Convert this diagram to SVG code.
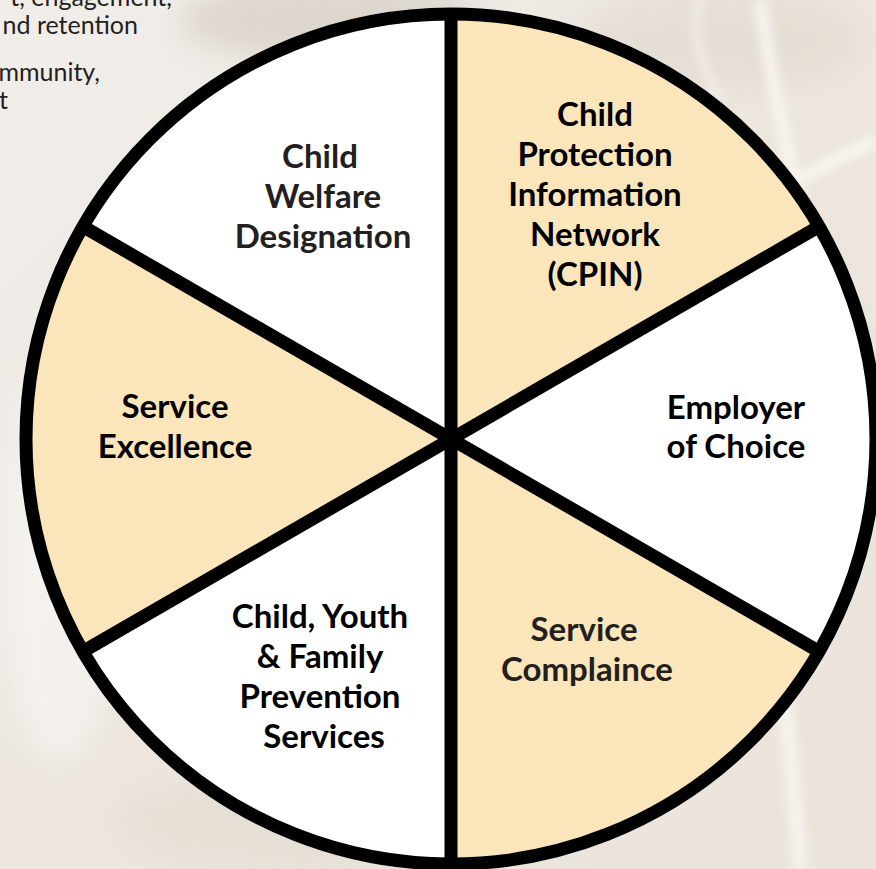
<svg xmlns="http://www.w3.org/2000/svg" width="876" height="869" viewBox="0 0 876 869">
  <defs>
    <filter id="soft" x="-50%" y="-50%" width="200%" height="200%">
      <feGaussianBlur stdDeviation="14"/>
    </filter>
    <filter id="softer" x="-50%" y="-50%" width="200%" height="200%">
      <feGaussianBlur stdDeviation="5"/>
    </filter>
    <linearGradient id="bg" x1="0" y1="0" x2="1" y2="1">
      <stop offset="0" stop-color="#f1eeea"/>
      <stop offset="0.5" stop-color="#ece6df"/>
      <stop offset="1" stop-color="#ebe4dc"/>
    </linearGradient>
  </defs>
  <style>
    .wedge-white { fill: #ffffff; }
    .wedge-tan { fill: #fbe6bb; }
    .label { font-family: Lato, "Liberation Sans", sans-serif; font-weight: 700; font-size: 33px; text-anchor: middle; fill: #000000; }
    .label.dim { fill: #231f20; }
    .divider { stroke: #000000; stroke-width: 13; stroke-linecap: butt; fill: none; }
    .rim { stroke: #000000; stroke-width: 13; fill: none; }
    .side { font-family: Lato, "Liberation Sans", sans-serif; font-size: 25px; fill: #231f20; text-anchor: end; }
  </style>

  <!-- backdrop: faded stone texture -->
  <g id="backdrop">
    <rect width="876" height="869" fill="url(#bg)"/>
    <ellipse cx="330" cy="20" rx="150" ry="40" fill="#cfc6bb" opacity="0.55" filter="url(#soft)"/>
    <ellipse cx="720" cy="40" rx="140" ry="50" fill="#e2dbd2" opacity="0.7" filter="url(#soft)"/>
    <ellipse cx="60" cy="560" rx="60" ry="200" fill="#f6f4f1" opacity="0.8" filter="url(#soft)"/>
    <ellipse cx="300" cy="820" rx="180" ry="50" fill="#e4ddd3" opacity="0.7" filter="url(#soft)"/>
    <path d="M760 0 C770 80 790 150 800 220 M800 180 C830 160 860 150 876 140 M780 660 C790 740 795 800 800 869" stroke="#f8f5f0" stroke-width="14" fill="none" opacity="0.9" filter="url(#softer)"/>
    <path d="M720 100 C700 60 690 30 700 0" stroke="#f6f3ee" stroke-width="8" fill="none" opacity="0.7" filter="url(#softer)"/>
  </g>

  <!-- partly visible side copy -->
  <g id="side-copy">
    <text class="side" x="172" y="6">t, engagement,</text>
    <text class="side" x="138" y="34">nd retention</text>
    <text class="side" x="100" y="81">mmunity,</text>
    <text class="side" x="8" y="109">t</text>
  </g>

  <!-- wheel segments: centre (451,439), radius 425 -->
  <g id="seg-welfare">
    <path class="wedge-white" d="M451 439 L82.94 226.5 A425 425 0 0 1 451 14 Z"/>
    <text class="label dim" x="320" y="168">Child</text>
    <text class="label dim" x="323" y="208">Welfare</text>
    <text class="label dim" x="323" y="248">Designation</text>
  </g>
  <g id="seg-cpin">
    <path class="wedge-tan" d="M451 439 L451 14 A425 425 0 0 1 819.06 226.5 Z"/>
    <text class="label" x="595" y="126">Child</text>
    <text class="label" x="595" y="166">Protection</text>
    <text class="label" x="595" y="206">Information</text>
    <text class="label" x="595" y="246">Network</text>
    <text class="label" x="595" y="286">(CPIN)</text>
  </g>
  <g id="seg-employer">
    <path class="wedge-white" d="M451 439 L819.06 226.5 A425 425 0 0 1 819.06 651.5 Z"/>
    <text class="label" x="736" y="419">Employer</text>
    <text class="label" x="736" y="458">of Choice</text>
  </g>
  <g id="seg-compliance">
    <path class="wedge-tan" d="M451 439 L819.06 651.5 A425 425 0 0 1 451 864 Z"/>
    <text class="label dim" x="584" y="641">Service</text>
    <text class="label dim" x="587" y="681">Complaince</text>
  </g>
  <g id="seg-prevention">
    <path class="wedge-white" d="M451 439 L451 864 A425 425 0 0 1 82.94 651.5 Z"/>
    <text class="label" x="320" y="628">Child, Youth</text>
    <text class="label" x="320" y="668">&amp; Family</text>
    <text class="label" x="320" y="708">Prevention</text>
    <text class="label" x="324" y="748">Services</text>
  </g>
  <g id="seg-excellence">
    <path class="wedge-tan" d="M451 439 L82.94 651.5 A425 425 0 0 1 82.94 226.5 Z"/>
    <text class="label" x="175" y="418">Service</text>
    <text class="label" x="175" y="458">Excellence</text>
  </g>

  <!-- dividers and rim -->
  <g id="connectors">
    <line class="divider" x1="451" y1="14" x2="451" y2="864"/>
    <line class="divider" x1="82.94" y1="226.5" x2="819.06" y2="651.5"/>
    <line class="divider" x1="82.94" y1="651.5" x2="819.06" y2="226.5"/>
    <circle class="rim" cx="451" cy="439" r="425"/>
  </g>
</svg>
